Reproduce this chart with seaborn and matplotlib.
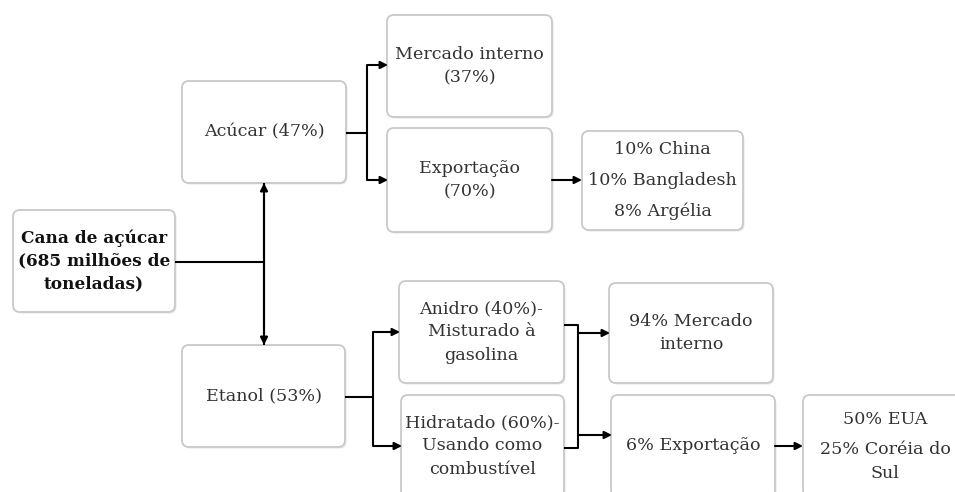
import matplotlib.pyplot as plt
import seaborn as sns
from matplotlib.patches import FancyBboxPatch

# Node texts (paragraphs separated inside each node)
node_texts = [
    [["Cana de açúcar", "(685 milhões de", "toneladas)"]],
    [["Acúcar (47%)"]],
    [["Etanol (53%)"]],
    [["Mercado interno", "(37%)"]],
    [["Exportação", "(70%)"]],
    [["10% China"], ["10% Bangladesh"], ["8% Argélia"]],
    [["Anidro (40%)-", "Misturado à", "gasolina"]],
    [["Hidratado (60%)-", "Usando como", "combustível"]],
    [["94% Mercado", "interno"]],
    [["6% Exportação"]],
    [["50% EUA"], ["25% Coréia do", "Sul"]],
]
node_bold = [True, False, False, False, False, False, False, False, False, False, False]

# Layout in pixel units (x, y_top, width, height)
node_boxes = [
    (13, 210, 162, 102),
    (182, 81, 164, 102),
    (182, 345, 163, 102),
    (387, 15, 165, 102),
    (387, 128, 165, 104),
    (582, 131, 161, 99),
    (399, 281, 165, 102),
    (401, 395, 163, 102),
    (609, 283, 164, 100),
    (611, 395, 164, 102),
    (803, 395, 164, 102),
]

# Plain connector segments and arrow segments (pixel units)
lines = [
    [(175, 262), (264, 262)],
    [(264, 183), (264, 345)],
    [(346, 133), (367, 133)],
    [(367, 65), (367, 180)],
    [(345, 397), (373, 397)],
    [(373, 332), (373, 446)],
    [(564, 325), (578, 325), (578, 448), (564, 448)],
]
arrows = [
    ((264, 262), (264, 183)),
    ((264, 262), (264, 345)),
    ((367, 65), (388, 65)),
    ((367, 180), (388, 180)),
    ((552, 180), (582, 180)),
    ((373, 332), (400, 332)),
    ((373, 446), (402, 446)),
    ((578, 333), (610, 333)),
    ((578, 435), (612, 435)),
    ((775, 446), (803, 446)),
]

sns.set_theme(style="white")
plt.rcParams["font.family"] = ["DejaVu Serif"]

fig = plt.figure(figsize=(9.55, 4.92), dpi=100)
ax = fig.add_axes([0, 0, 1, 1])
ax.set_xlim(0, 955)
ax.set_ylim(492, 0)
ax.axis("off")

line_step = 23
para_step = 31

for texts, bold, (x, y, w, h) in zip(node_texts, node_bold, node_boxes):
    shadow = FancyBboxPatch((x + 1.5, y + 1.5), w, h,
                            boxstyle="round,pad=0,rounding_size=7",
                            facecolor="#e6e6e6", edgecolor="none", zorder=1)
    ax.add_patch(shadow)
    box = FancyBboxPatch((x, y), w, h,
                         boxstyle="round,pad=0,rounding_size=7",
                         facecolor="white", edgecolor="#c9c9c9", lw=1.3, zorder=2)
    ax.add_patch(box)
    # vertical positions of each line
    ys = []
    cur = 0
    for i, para in enumerate(texts):
        if i > 0:
            cur += para_step
        for j, _ in enumerate(para):
            if j > 0:
                cur += line_step
            ys.append(cur)
    offset = y + h / 2 - (ys[0] + ys[-1]) / 2
    flat = [t for para in texts for t in para]
    for t, ly in zip(flat, ys):
        ax.text(x + w / 2, ly + offset, t, ha="center", va="center",
                fontsize=12.2 if bold else 12.6,
                fontweight="bold" if bold else "normal",
                color="#111111" if bold else "#333333", zorder=3)

for seg in lines:
    xs = [p[0] for p in seg]
    ys = [p[1] for p in seg]
    ax.plot(xs, ys, color="black", lw=1.5, solid_capstyle="butt", zorder=2)

for start, end in arrows:
    ax.annotate("", xy=end, xytext=start,
                arrowprops=dict(arrowstyle="-|>", color="black", lw=1.5,
                                mutation_scale=11, shrinkA=0, shrinkB=0),
                zorder=2)

fig.savefig("out.png", dpi=100)
